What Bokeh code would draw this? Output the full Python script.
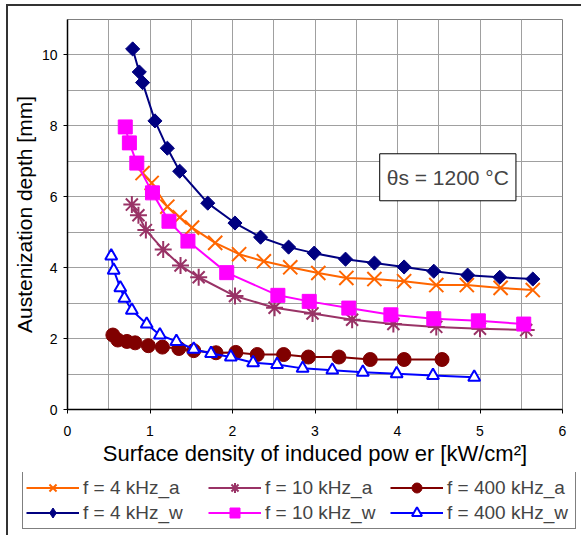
import math
from bokeh.plotting import figure
from bokeh.layouts import column
from bokeh.models import SingleIntervalTicker, Legend, LegendItem, Label
from bokeh.embed import file_html
from bokeh.resources import INLINE

# ---- data ----
x_4a = [0.91, 1.02, 1.21, 1.36, 1.51, 1.79, 2.08, 2.38, 2.70, 3.04, 3.38, 3.72, 4.08, 4.47, 4.84, 5.25, 5.64]
y_4a = [6.67, 6.39, 5.72, 5.42, 5.13, 4.70, 4.38, 4.18, 4.01, 3.85, 3.71, 3.68, 3.62, 3.51, 3.51, 3.43, 3.37]

x_10a = [0.78, 0.86, 0.95, 1.16, 1.37, 1.59, 2.03, 2.51, 2.97, 3.45, 3.95, 4.47, 5.00, 5.56]
y_10a = [5.78, 5.48, 5.06, 4.51, 4.06, 3.73, 3.20, 2.87, 2.71, 2.53, 2.41, 2.33, 2.28, 2.24]

x_400a = [0.55, 0.61, 0.72, 0.82, 0.98, 1.15, 1.35, 1.53, 1.80, 2.04, 2.30, 2.62, 2.92, 3.29, 3.67, 4.08, 4.54]
y_400a = [2.10, 1.96, 1.92, 1.88, 1.80, 1.76, 1.72, 1.66, 1.60, 1.61, 1.55, 1.55, 1.48, 1.48, 1.41, 1.41, 1.41]

x_4w = [0.79, 0.87, 0.91, 1.06, 1.21, 1.36, 1.70, 2.03, 2.34, 2.68, 2.99, 3.37, 3.72, 4.08, 4.44, 4.85, 5.24, 5.64]
y_4w = [10.17, 9.52, 9.22, 8.14, 7.37, 6.72, 5.82, 5.26, 4.86, 4.58, 4.41, 4.24, 4.13, 4.02, 3.90, 3.79, 3.73, 3.68]

x_10w = [0.70, 0.75, 0.84, 1.03, 1.23, 1.46, 1.93, 2.55, 2.93, 3.41, 3.92, 4.44, 4.98, 5.53]
y_10w = [7.97, 7.52, 6.95, 6.11, 5.31, 4.75, 3.86, 3.22, 3.05, 2.86, 2.67, 2.56, 2.50, 2.41]

x_400w = [0.53, 0.56, 0.64, 0.69, 0.78, 0.96, 1.12, 1.32, 1.53, 1.74, 1.98, 2.25, 2.54, 2.85, 3.21, 3.58, 3.99, 4.43, 4.93]
y_400w = [4.33, 3.93, 3.43, 3.14, 2.80, 2.41, 2.10, 1.92, 1.70, 1.58, 1.48, 1.32, 1.27, 1.16, 1.11, 1.05, 1.01, 0.96, 0.91]

labels = ["f = 4 kHz_a", "f = 10 kHz_a", "f = 400 kHz_a",
          "f = 4 kHz_w", "f = 10 kHz_w", "f = 400 kHz_w"]

x_title = "Surface density of induced pow er [kW/cm²]"
y_title = "Austenization depth [mm]"
note = "θs = 1200 °C"

FONT = "Liberation Sans"

# (x, y, colour, marker, size, angle, filled, legend marker, legend size)
series = [
    (x_4a, y_4a, "#FF6600", "x", 20, 0.0, True, "x", 20),
    (x_10a, y_10a, "#993366", "asterisk", 17, 0.0, True, "asterisk", 17),
    (x_400a, y_400a, "#800000", "circle", 14, 0.0, True, "circle", 15),
    (x_4w, y_4w, "#000080", "square", 10, math.pi / 4, True, "diamond", 16),
    (x_10w, y_10w, "#FF00FF", "square", 14, 0.0, True, "square", 14),
    (x_400w, y_400w, "#0000FF", "triangle", 12, 0.0, False, "triangle", 13),
]


def draw(fig, xs, ys, col, mk, sz, ang, filled):
    ln = fig.line(xs, ys, line_color=col, line_width=2)
    sc = fig.scatter(xs, ys, marker=mk, size=sz, angle=ang, line_color=col,
                     fill_color=col if filled else "white",
                     line_width=2 if mk in ("x", "asterisk", "triangle") else 1)
    return ln, sc


# ---------------- main chart ----------------
p = figure(width=573, height=466, output_backend="svg", toolbar_location=None,
           x_range=(0, 6), y_range=(0, 11),
           min_border_left=59, min_border_right=19, min_border_top=13, min_border_bottom=63)
p.background_fill_color = "white"
p.border_fill_color = "white"
p.outline_line_color = "#808080"
p.outline_line_width = 1

p.xaxis.ticker = SingleIntervalTicker(interval=1)
p.yaxis.ticker = SingleIntervalTicker(interval=2)
p.xgrid.ticker = SingleIntervalTicker(interval=0.5)
p.ygrid.ticker = SingleIntervalTicker(interval=1)
for g in (p.xgrid, p.ygrid):
    g.grid_line_color = "#a0a0a0"
    g.grid_line_width = 1

for ax in (p.xaxis, p.yaxis):
    ax.axis_line_color = "black"
    ax.axis_line_width = 1.5
    ax.major_tick_line_color = "black"
    ax.major_tick_in = 0
    ax.major_tick_out = 4
    ax.minor_tick_line_color = None
    ax.major_label_text_font = FONT
    ax.major_label_text_font_size = "14px"
    ax.major_label_text_color = "black"
    ax.axis_label_text_font = FONT
    ax.axis_label_text_font_style = "normal"
    ax.axis_label_text_color = "black"

p.xaxis.axis_label = x_title
p.yaxis.axis_label = y_title
p.xaxis.axis_label_text_font_size = "22px"
p.yaxis.axis_label_text_font_size = "21px"
p.xaxis.major_label_standoff = 12
p.xaxis.axis_label_standoff = 2
p.yaxis.major_label_standoff = 6
p.yaxis.axis_label_standoff = 3

for s in series:
    draw(p, *s[:7])

lbl = Label(x=4.61, y=6.55, text=note, text_font=FONT, text_font_size="21px",
            text_align="center", text_baseline="middle",
            border_line_color="black", border_line_width=1,
            background_fill_color="white", padding=(7, 12))
p.add_layout(lbl)

# ---------------- legend strip ----------------
pl = figure(width=573, height=63, output_backend="svg", toolbar_location=None,
            x_range=(100, 101), y_range=(100, 101),
            x_axis_location=None, y_axis_location=None,
            min_border_left=0, min_border_right=0, min_border_top=0, min_border_bottom=0)
pl.grid.visible = False
pl.outline_line_color = None
pl.background_fill_color = "white"
pl.border_fill_color = "white"

for fig in (p, pl):
    try:
        fig.frame_align = False
    except Exception:
        pass

items = []
for s, lab in zip(series, labels):
    xs, ys, col, mk, sz, ang, filled, lmk, lsz = s
    ln, sc = draw(pl, xs, ys, col, lmk, lsz, 0.0, filled)
    items.append(LegendItem(label=lab, renderers=[ln, sc]))

legend = Legend(items=items, orientation="horizontal", ncols=3,
                location=(14, 6),
                label_text_font=FONT, label_text_font_size="19px",
                glyph_width=53, glyph_height=25, label_height=25, label_width=125,
                label_standoff=4, spacing=0, padding=3, margin=0,
                border_line_color="black", border_line_width=1,
                background_fill_color="white", background_fill_alpha=1)
pl.add_layout(legend, "center")

layout = column(p, pl, spacing=0,
                styles={"margin-left": "6px", "margin-top": "4px",
                        "border-left": "2px solid #333", "border-top": "2px solid #333"})

open("out.html", "w").write(file_html(layout, INLINE))
